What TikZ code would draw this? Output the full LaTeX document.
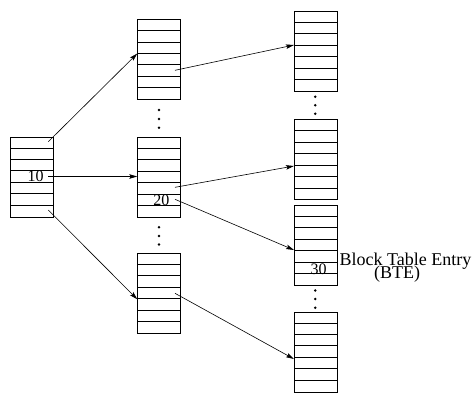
\documentclass[tikz,border=0pt]{standalone}
\usepackage{fontspec}
\setmainfont{Liberation Serif}
\usetikzlibrary{arrows.meta}
\tikzset{
  tbl/.style={draw, line width=0.6pt, rectangle, inner sep=0pt, anchor=north west,
              minimum width=43pt, minimum height=80pt},
  rowline/.style={line width=0.6pt},
  conn/.style={line width=0.6pt, -{Stealth[length=8pt,width=4.5pt,inset=1.5pt]}},
  dotmark/.style={fill=black, draw=none},
  num/.style={font=\fontsize{16}{16}\selectfont, inner sep=0pt, anchor=base},
  lbl/.style={font=\fontsize{18}{18}\selectfont, inner sep=0pt},
}
\newcommand\mytable[3]{%
  \node[tbl] (#1) at (#2,#3) {};
  \foreach \i in {1,...,6} {
    \draw[rowline] ($(#1.north west)+(0,\i*80/7)$) -- ($(#1.north east)+(0,\i*80/7)$);
  }
}
\usetikzlibrary{calc}
\begin{document}
\begin{tikzpicture}[x=1pt,y=-1pt]
\useasboundingbox (0,0) rectangle (474,392);
% tables
\mytable{L}{10}{136.5}
\mytable{MA}{137.3}{19}
\mytable{MB}{137.3}{136.7}
\mytable{MC}{137.3}{252.7}
\mytable{RA}{294}{10.7}
\mytable{RB}{294}{119.3}
\mytable{RC}{294}{204.8}
\mytable{RD}{294}{311.5}
% dots
\foreach \y in {110,119,127.7} \fill[dotmark] (159,\y) circle (1.4);
\foreach \y in {227.3,236,244.5} \fill[dotmark] (159,\y) circle (1.4);
\foreach \y in {96.7,105.2,113.7} \fill[dotmark] (315.3,\y) circle (1.4);
\foreach \y in {290.5,299,307.7} \fill[dotmark] (315.3,\y) circle (1.4);
% numbers
\node[num] (n10) at (35.5,181.7) {10};
\node[num] (n20) at (161.3,205) {20};
\node[num] (n30) at (318.5,274.3) {30};
% label
\node[lbl, anchor=base west] (bte1) at (339.5,265.7) {Block Table Entry};
\node[lbl, anchor=base] (bte2) at (397,278.3) {(BTE)};
% connector end points
\coordinate (sL1) at (48.3,141.7);
\coordinate (sL2) at (48.3,176.5);
\coordinate (sL3) at (48.3,210);
\coordinate (sMA) at (175,70.3);
\coordinate (sMB1) at (175,187.3);
\coordinate (sMB2) at (175,199.3);
\coordinate (sMC) at (175,293.3);
\coordinate (eMA) at (137.3,53.5);
\coordinate (eMB) at (137.3,176.5);
\coordinate (eMC) at (137.3,299.3);
\coordinate (eRA) at (294,45);
\coordinate (eRB) at (294,166);
\coordinate (eRC) at (294,250);
\coordinate (eRD) at (294,359);
% connectors
\draw[conn] (sL1) -- (eMA);
\draw[conn] (sL2) -- (eMB);
\draw[conn] (sL3) -- (eMC);
\draw[conn] (sMA) -- (eRA);
\draw[conn] (sMB1) -- (eRB);
\draw[conn] (sMB2) -- (eRC);
\draw[conn] (sMC) -- (eRD);
\end{tikzpicture}
\end{document}
